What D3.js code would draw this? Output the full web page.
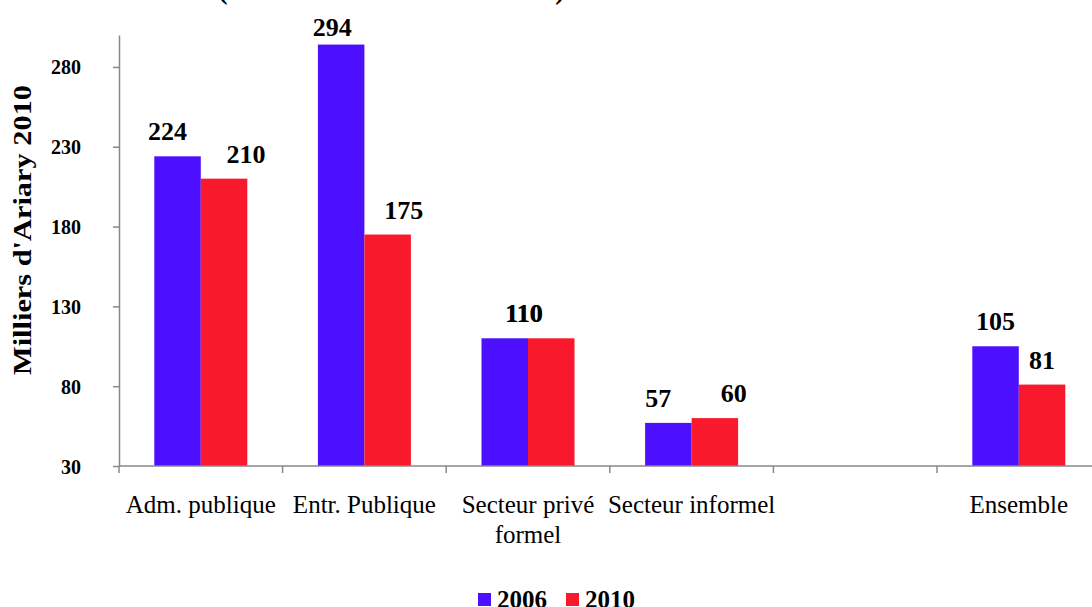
<!DOCTYPE html>
<html>
<head>
<meta charset="utf-8">
<script src="https://cdn.jsdelivr.net/npm/d3@7"></script>
<style>
  html,body{margin:0;padding:0;background:#fff;overflow:hidden;}
  svg text{font-family:"Times New Roman","Liberation Serif",Times,serif;}
</style>
</head>
<body>
<svg id="chart" width="1092" height="607"></svg>
<script>
/* ---------- data ---------------------------------------- */
const categories = ['Adm. publique','Entr. Publique','Secteur privé formel','Secteur informel','','Ensemble'];
const years      = ['2006','2010'];
const val2006    = [224, 294, 110, 57, null, 105];
const val2010    = [210, 175, 110, 60, null, 81];
const yTicks     = [30, 80, 130, 180, 230, 280];
const yTitle     = "Milliers d'Ariary 2010";

/* label nudges (px) – labels were hand-placed in the original */
const nudge2006  = [-10, -9, 19, -10, 0, 0];
const nudge2010  = [ 22, 16, -27, 19, 0, 0];

const colour = {'2006':'#4c10ff','2010':'#f81a2c'};
const FONT = '"Times New Roman","Liberation Serif",Times,serif';

/* ---------- layout -------------------------------------- */
const svg = d3.select('#chart');
const M = {left:119, top:35, right:1100.6, bottom:466};

const x = d3.scaleBand().domain(d3.range(categories.length))
  .range([M.left, M.right]).padding(0);
const x1 = d3.scaleBand().domain(years)
  .range([0, x.bandwidth()]).paddingInner(0).paddingOuter(0.759);
const y = d3.scaleLinear().domain([30, 300]).range([M.bottom, M.top]);

const rows = categories.map((c,i) => ({
  i, cat:c,
  vals: [{yr:'2006', v:val2006[i], dx:nudge2006[i]},
         {yr:'2010', v:val2010[i], dx:nudge2010[i]}]
}));

/* ---------- bars ---------------------------------------- */
const grp = svg.append('g').selectAll('g')
  .data(rows).enter().append('g')
    .attr('transform', d => `translate(${x(d.i)},0)`);

grp.selectAll('rect')
  .data(d => d.vals.filter(v => v.v != null))
  .enter().append('rect')
    .attr('x', d => x1(d.yr))
    .attr('width', x1.bandwidth())
    .attr('y', d => y(d.v))
    .attr('height', d => y(30) - y(d.v))
    .attr('fill', d => colour[d.yr]);

grp.selectAll('text.lbl')
  .data(d => d.vals.filter(v => v.v != null))
  .enter().append('text')
    .attr('class','lbl')
    .attr('x', d => x1(d.yr) + x1.bandwidth()/2 + d.dx)
    .attr('y', d => Math.max(y(d.v) - 16, 36))
    .attr('text-anchor','middle')
    .style('font-size','26px').style('font-weight','bold')
    .text(d => d.v);

/* ---------- axes ---------------------------------------- */
const yAxis = svg.append('g')
  .attr('transform',`translate(${M.left},0)`)
  .call(d3.axisLeft(y).tickValues(yTicks).tickSize(6).tickSizeOuter(0).tickPadding(32))
  .attr('font-family', FONT).attr('font-size', 20);
yAxis.select('.domain').attr('stroke','#888').attr('stroke-width',1.5);
yAxis.selectAll('.tick line').attr('stroke','#888').attr('stroke-width',1.5);
yAxis.selectAll('.tick text')
  .style('font-size','20px').style('font-weight','bold')
  .attr('fill','#000').attr('dy','0.35em');

/* x axis line + ticks at band boundaries */
const xa = svg.append('g');
xa.append('line')
  .attr('x1', M.left).attr('x2', 1092)
  .attr('y1', M.bottom).attr('y2', M.bottom)
  .attr('stroke','#888').attr('stroke-width',1.5);
xa.selectAll('line.tk')
  .data(d3.range(categories.length + 1))
  .enter().append('line')
    .attr('class','tk')
    .attr('x1', i => M.left + i*x.bandwidth()).attr('x2', i => M.left + i*x.bandwidth())
    .attr('y1', M.bottom).attr('y2', M.bottom + 7)
    .attr('stroke','#888').attr('stroke-width',1.5);

/* category labels, wrapped like the original */
const catLbl = xa.selectAll('text.cat')
  .data(rows.filter(d => d.cat))
  .enter().append('text')
    .attr('class','cat')
    .attr('x', d => x(d.i) + x.bandwidth()/2)
    .attr('y', 513)
    .attr('text-anchor','middle')
    .style('font-size','25px');

catLbl.each(function(d){
  const t = d3.select(this), words = d.cat.split(' ');
  let line = [], lines = [];
  const probe = t.append('tspan');
  words.forEach(w => {
    line.push(w);
    probe.text(line.join(' '));
    if (probe.node().getComputedTextLength() > 190 && line.length > 1) {
      line.pop(); lines.push(line.join(' ')); line = [w];
    }
  });
  lines.push(line.join(' '));
  probe.remove();
  lines.forEach((l,k) => t.append('tspan')
    .attr('x', x(d.i) + x.bandwidth()/2)
    .attr('dy', k ? 30 : 0)
    .text(l));
});

/* y title */
svg.append('text')
  .attr('transform','translate(31,230) rotate(-90)')
  .attr('text-anchor','middle')
  .attr('textLength', 290).attr('lengthAdjust','spacingAndGlyphs')
  .style('font-size','25px').style('font-weight','bold')
  .text(yTitle);

/* chart title – only the bottom of its brackets is in view */
svg.append('text').attr('x',223).attr('y',-1).attr('text-anchor','middle')
  .style('font-size','28px').style('font-weight','bold').text('(');
svg.append('text').attr('x',560).attr('y',-1).attr('text-anchor','middle')
  .style('font-size','28px').style('font-weight','bold').text(')');

/* ---------- legend -------------------------------------- */
const legX = [478, 566];
const leg = svg.append('g').selectAll('g')
  .data(years).enter().append('g')
    .attr('transform', (d,i) => `translate(${legX[i]},593)`);
leg.append('rect').attr('width',13).attr('height',13).attr('fill', d => colour[d]);
leg.append('text').attr('x',19).attr('y',15)
  .style('font-size','25px').style('font-weight','bold')
  .text(d => d);
</script>
</body>
</html>
